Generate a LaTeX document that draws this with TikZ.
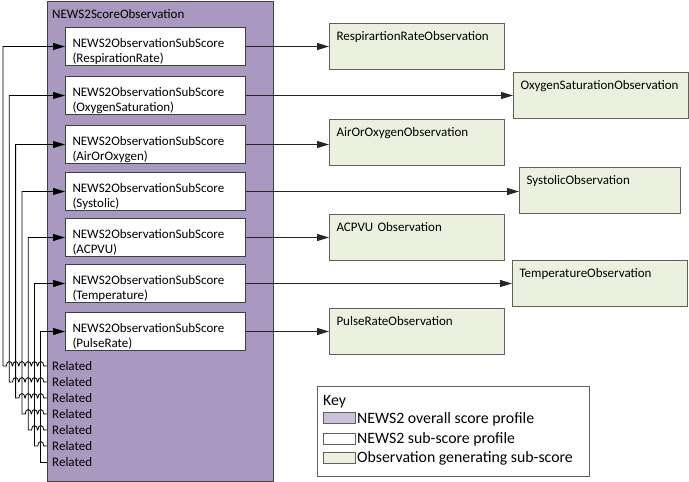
\documentclass[tikz,border=0pt]{standalone}
\usepackage{fontspec}
\setmainfont{Carlito}
\usetikzlibrary{arrows.meta}

\definecolor{scorepurple}{RGB}{169,153,193}
\definecolor{keypurple}{RGB}{204,192,218}
\definecolor{obsgreen}{RGB}{235,241,222}
\definecolor{edgegrey}{RGB}{64,64,64}
\definecolor{obsgrey}{RGB}{96,96,96}

\tikzset{
  plain/.style={inner xsep=5pt, inner ysep=0pt, font=\fontsize{13}{15}\selectfont},
  subbox/.style={draw=edgegrey, fill=white, line width=1pt, anchor=north west,
    text width=166pt, align=left, inner xsep=7pt, inner ysep=3pt,
    text height=16.5pt, text depth=15.5pt, font=\fontsize{13}{15}\selectfont},
  obsbox/.style={draw=obsgrey, fill=obsgreen, line width=1pt, anchor=north west,
    text width=#1, align=left, inner xsep=7pt, inner ysep=5pt,
    text height=12pt, text depth=24pt, font=\fontsize{13}{15}\selectfont},
  obsbox/.default=161pt,
  obsarrow/.style={draw=black!85, line width=1pt, -{Triangle[length=12pt, width=7pt]}},
  relarrow/.style={draw=black, line width=0.8pt, {Triangle[length=12pt, width=7pt]}-},
  swatch/.style={draw=obsgrey, line width=1pt, minimum width=32pt, minimum height=11pt, inner sep=0pt},
  keytext/.style={inner xsep=2pt, inner ysep=0pt, anchor=west, font=\fontsize{15.8}{18}\selectfont}
}

\begin{document}
\begin{tikzpicture}[x=1pt, y=-1pt]
  % Fix the page to the size of the reference
  \useasboundingbox (0,0) rectangle (689,482);

  % Overall score profile
  \filldraw[fill=scorepurple, draw=edgegrey, line width=1pt] (47,1) rectangle (273,481);
  \node[plain, anchor=west] (title) at (47,14) {NEWS2ScoreObservation};

  % Sub-score profiles
  \node[subbox] (sub1) at (65,27) {NEWS2ObservationSubScore\\(RespirationRate)};
  \node[subbox] (sub2) at (65,76) {NEWS2ObservationSubScore\\(OxygenSaturation)};
  \node[subbox] (sub3) at (65,125) {NEWS2ObservationSubScore\\(AirOrOxygen)};
  \node[subbox] (sub4) at (65,172) {NEWS2ObservationSubScore\\(Systolic)};
  \node[subbox] (sub5) at (65,218) {NEWS2ObservationSubScore\\(ACPVU)};
  \node[subbox] (sub6) at (65,264) {NEWS2ObservationSubScore\\(Temperature)};
  \node[subbox] (sub7) at (65,312) {NEWS2ObservationSubScore\\(PulseRate)};

  % Related attributes
  \foreach \i in {1,...,7} {
    \pgfmathsetmacro\ry{366+16*(\i-1)}
    \node[plain, anchor=west] (rel\i) at (47,\ry) {Related};
  }

  % Observations
  \node[obsbox] (obs1) at (329,23) {RespirartionRateObservation};
  \node[obsbox] (obs2) at (513,72) {OxygenSaturationObservation};
  \node[obsbox] (obs3) at (329,119) {AirOrOxygenObservation};
  \node[obsbox=147pt] (obs4) at (519,167) {SystolicObservation};
  \node[obsbox] (obs5) at (329,214) {ACPVU Observation};
  \node[obsbox] (obs6) at (512,260) {TemperatureObservation};
  \node[obsbox] (obs7) at (329,308) {PulseRateObservation};

  % Sub-score to observation
  \foreach \i in {1,...,7}
    \draw[obsarrow] (sub\i.east) -- (sub\i.east -| obs\i.west);

  % Related to sub-score, hopping over the other lines
  \foreach \j in {1,...,6} {
    \pgfmathsetmacro\lx{3+6.3*(\j-1)}
    \pgfmathsetmacro\ry{366+16*(\j-1)}
    \pgfmathtruncatemacro\nj{\j+1}
    \draw[relarrow] (sub\j.west) -| (\lx,\ry)
      \foreach \k in {\nj,...,7} {
        -- ({6.3*(\k-1)},\ry) arc[start angle=180, end angle=0, x radius=3pt, y radius=4.5pt]
      } -- (rel\j.west);
  }
  \draw[relarrow] (sub7.west) -| (40.8,462) -- (rel7.west);

  % Key
  \filldraw[fill=white, draw=obsgrey, line width=1pt] (317,386) rectangle (589,476);
  \node[keytext] (key) at (321,402) {Key};
  \node[swatch, fill=keypurple] (sw1) at (339,417.5) {};
  \node[keytext] (k1) at (355,419) {NEWS2 overall score profile};
  \node[swatch, fill=white] (sw2) at (339,439) {};
  \node[keytext] (k2) at (355,439.5) {NEWS2 sub-score profile};
  \node[swatch, fill=obsgreen] (sw3) at (339,457.5) {};
  \node[keytext] (k3) at (355,458.5) {Observation generating sub-score};
\end{tikzpicture}
\end{document}
